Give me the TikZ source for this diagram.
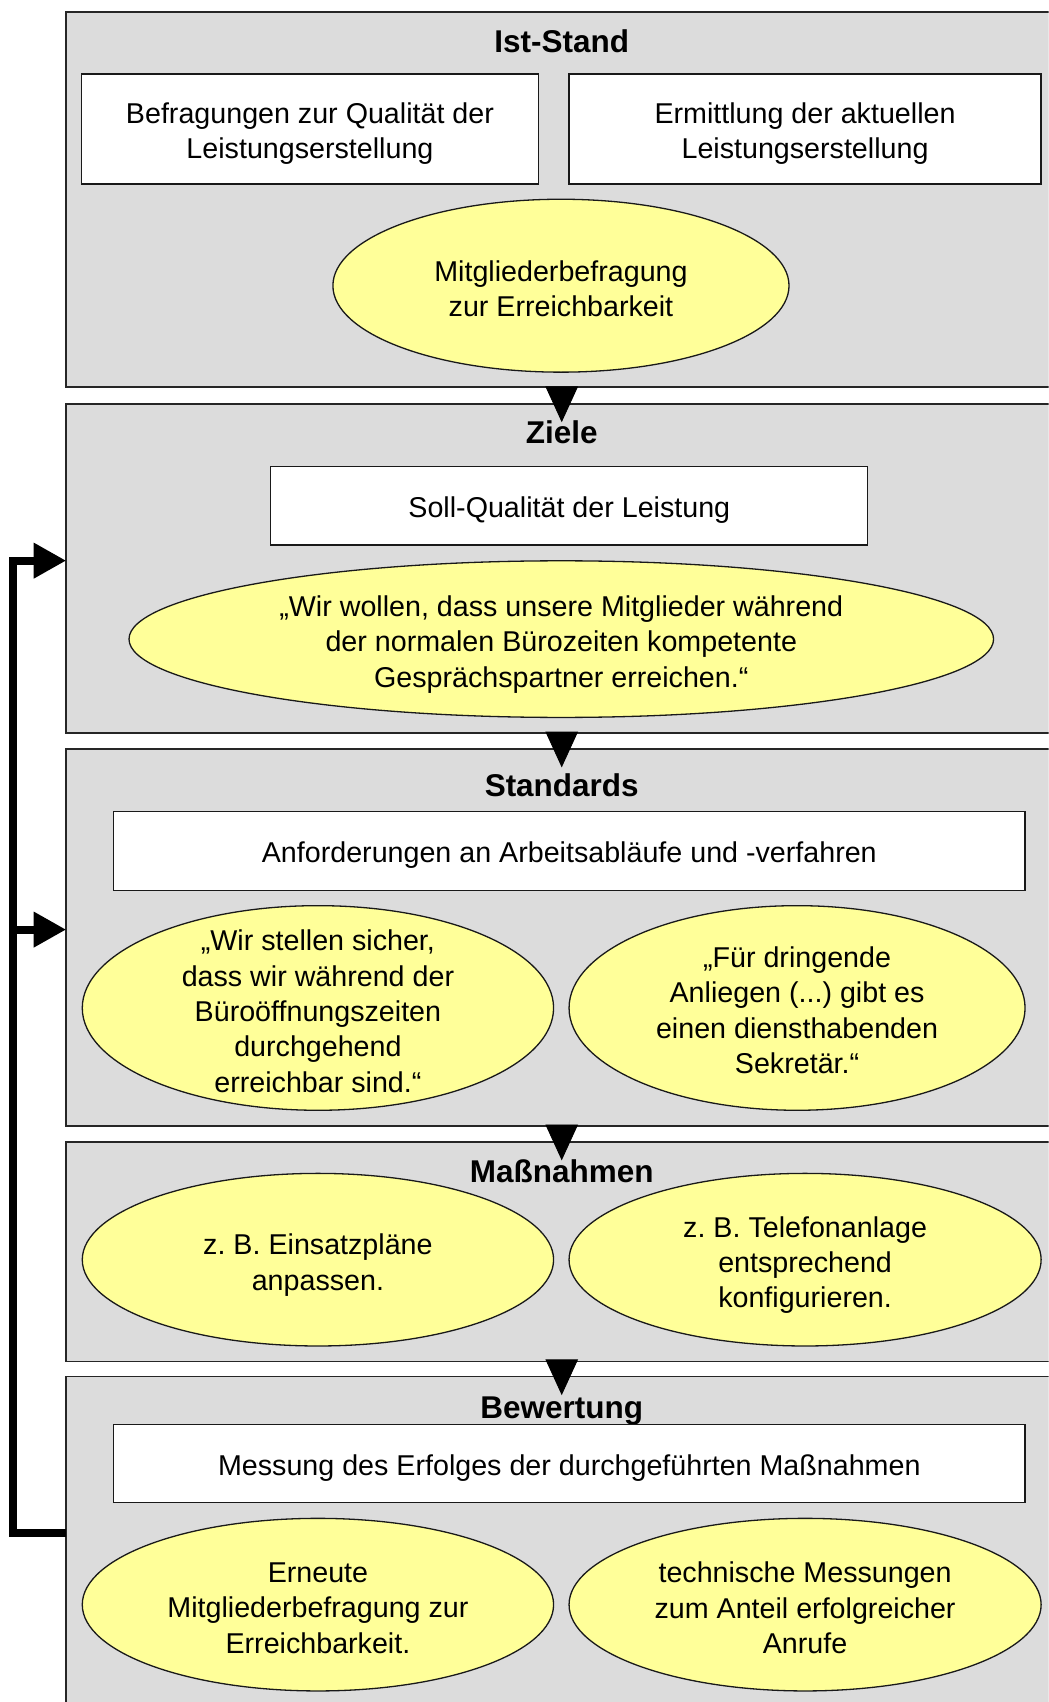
\documentclass[tikz,border=0pt]{standalone}
\usepackage{fontspec}
\setmainfont{Liberation Sans}
\usetikzlibrary{arrows.meta,shapes.geometric,calc}

\definecolor{panelgray}{HTML}{DCDCDC}
\definecolor{noteyellow}{HTML}{FFFF99}

\begin{document}
\frenchspacing
\begin{tikzpicture}[x=1pt,y=1pt,
  panel/.style={rectangle, draw=black!85, line width=1.4pt, fill=panelgray,
    inner sep=0pt, outer sep=0pt, anchor=north west, minimum width=960},
  title/.style={font=\bfseries\fontsize{29}{34}\selectfont, anchor=base, inner sep=0pt},
  txt/.style={font=\fontsize{26.4}{32.6}\selectfont, align=center, inner sep=0pt},
  whitebox/.style={rectangle, draw=black!90, line width=1.2pt, fill=white,
    inner sep=0pt, outer sep=0pt},
  note/.style={ellipse, draw=black!90, line width=1.2pt, fill=noteyellow,
    inner sep=0pt, outer sep=0pt},
  flow/.style={line width=0.8pt, -{Triangle[length=33pt,width=30pt]}, shorten >=-17pt},
  feedback/.style={line width=7.4pt, line join=miter, -{Triangle[length=30pt,width=31pt]}}
]
\useasboundingbox (0,0) rectangle (966.06,-1568);
\clip (0,0) rectangle (966.06,-1568);

% --- panels ---
\node[panel, minimum height=345.7] (p1) at (61,-11) {};
\node[panel, minimum height=303.3] (p2) at (61,-372) {};
\node[panel, minimum height=347.5] (p3) at (61,-690) {};
\node[panel, minimum height=202.3] (p4) at (61,-1052) {};
\node[panel, minimum height=400]   (p5) at (61,-1268.3) {};

% --- panel titles ---
\node[title] (t1) at (517.5,-48.5)   {Ist-Stand};
\node[title] (t2) at (517.5,-408.3)  {Ziele};
\node[title] (t3) at (517.5,-733.6)  {Standards};
\node[title] (t4) at (517.5,-1089.5) {Maßnahmen};
\node[title] (t5) at (517.5,-1306.6) {Bewertung};

% --- Ist-Stand ---
\node[whitebox, minimum width=420.7, minimum height=101.2] (b1a) at (285.55,-118.8) {};
\node[txt] (b1at) at ($(b1a.center)+(0,-4.5)$) {Befragungen zur Qualität der\\Leistungserstellung};
\node[whitebox, minimum width=434.9, minimum height=101.2] (b1b) at (741.65,-118.8) {};
\node[txt] (b1bt) at ($(b1b.center)+(0,-4.5)$) {Ermittlung der aktuellen\\Leistungserstellung};
\node[note, minimum width=420.2, minimum height=159.3] (e1) at (516.8,-263.2) {};
\node[txt] (e1t) at ($(e1.center)+(0,-3)$) {Mitgliederbefragung\\zur Erreichbarkeit};

% --- Ziele ---
\node[whitebox, minimum width=550, minimum height=72.4] (b2) at (524.5,-466) {};
\node[txt] (b2t) at ($(b2.center)+(0,-4)$) {Soll-Qualität der Leistung};
\node[note, minimum width=796.5, minimum height=144.3] (e2) at (517.1,-588.8) {};
\node[txt] (e2t) at ($(e2.center)+(0,-5)$)
  {„Wir wollen, dass unsere Mitglieder während\\der normalen Bürozeiten kompetente\\Gesprächspartner erreichen.“};

% --- Standards ---
\node[whitebox, minimum width=839.6, minimum height=73] (b3) at (524.5,-784) {};
\node[txt] (b3t) at ($(b3.center)+(0,-4)$) {Anforderungen an Arbeitsabläufe und -verfahren};
\node[note, minimum width=434.2, minimum height=188.5] (e3l) at (292.9,-928.6) {};
\node[txt] (e3lt) at ($(e3l.center)+(0,-3)$)
  {„Wir stellen sicher,\\dass wir während der\\Büroöffnungszeiten\\durchgehend\\erreichbar sind.“};
\node[note, minimum width=420.1, minimum height=188.5] (e3r) at (734.3,-928.6) {};
\node[txt] (e3rt) at ($(e3r.center)+(0,-2)$)
  {„Für dringende\\Anliegen (...) gibt es\\einen diensthabenden\\Sekretär.“};

% --- Maßnahmen ---
\node[note, minimum width=434.2, minimum height=159] (e4l) at (292.9,-1160.5) {};
\node[txt] (e4lt) at ($(e4l.center)+(0,-5)$) {z. B. Einsatzpläne\\anpassen.};
\node[note, minimum width=434.9, minimum height=159] (e4r) at (741.7,-1160.5) {};
\node[txt] (e4rt) at ($(e4r.center)+(0,-5)$) {z. B. Telefonanlage\\entsprechend\\konfigurieren.};

% --- Bewertung ---
\node[whitebox, minimum width=839.6, minimum height=72.1] (b5) at (524.5,-1348.45) {};
\node[txt] (b5t) at ($(b5.center)+(0,-4)$) {Messung des Erfolges der durchgeführten Maßnahmen};
\node[note, minimum width=434.2, minimum height=159] (e5l) at (292.9,-1478.3) {};
\node[txt] (e5lt) at ($(e5l.center)+(0,-3)$)
  {Erneute\\Mitgliederbefragung zur\\Erreichbarkeit.};
\node[note, minimum width=434.9, minimum height=159] (e5r) at (741.7,-1478.3) {};
\node[txt] (e5rt) at ($(e5r.center)+(0,-3)$)
  {technische Messungen\\zum Anteil erfolgreicher\\Anrufe};

% --- flow between the stages ---
\draw[flow] (t1 |- p1.south) -- (t2 |- p2.north);
\draw[flow] (t2 |- p2.south) -- (t3 |- p3.north);
\draw[flow] (t3 |- p3.south) -- (t4 |- p4.north);
\draw[flow] (t4 |- p4.south) -- (t5 |- p5.north);

% --- feedback loop from the evaluation back to goals and standards ---
\coordinate (fb5) at (61,-1412.6);
\coordinate (fb2) at (61,-516.5);
\coordinate (fb3) at (61,-856.4);
\coordinate (fbl) at (12.4,-1412.6);
\draw[feedback] (fb5) -- (fbl) |- (fb2);
\draw[feedback] (fbl |- fb3) -- (fb3);
\end{tikzpicture}
\end{document}
